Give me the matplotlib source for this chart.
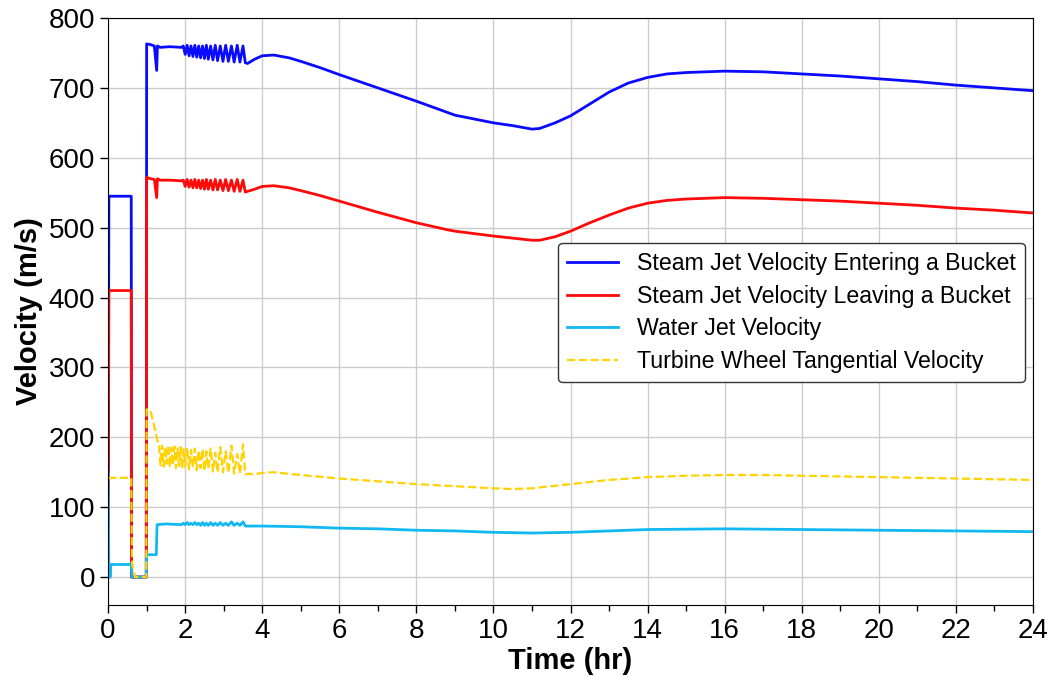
import numpy as np
import matplotlib
matplotlib.use("Agg")
import matplotlib.pyplot as plt
from matplotlib.ticker import MultipleLocator

plt.rcParams['font.family'] = ['Liberation Sans', 'DejaVu Sans']

#---------------------------- data ------------------------------------------------------
# oscillating start-up period (shared by the steam/water traces)
osc_t = [1.95, 2.0, 2.05, 2.1, 2.15, 2.2, 2.25, 2.3, 2.35, 2.4, 2.45, 2.5, 2.55, 2.6,
         2.66, 2.72, 2.78, 2.84, 2.91, 2.98, 3.05, 3.12, 3.2, 3.27, 3.35, 3.42, 3.5, 3.56]

# Steam jet velocity entering a bucket
t_in = [0, 0.02, 0.6, 0.61, 0.99, 1.0, 1.1, 1.2, 1.26, 1.28, 1.35, 1.6, 1.9] + osc_t + \
       [3.62, 3.8, 4.0, 4.3, 4.7, 5, 5.5, 6, 7, 8, 8.8, 9, 10, 10.5, 11, 11.2, 11.6, 12,
        12.5, 13, 13.5, 14, 14.5, 15, 16, 17, 18, 19, 20, 21, 22, 23, 24]
v_in = [0, 545, 545, 0, 0, 763, 762, 760, 725, 760, 758, 759, 758] + \
       [760, 748, 761, 746, 760, 745, 761, 744, 760, 743, 760, 742, 761, 741,
        760, 740, 761, 739, 760, 738, 761, 738, 760, 737, 761, 737, 760, 736] + \
       [735, 741, 746, 747, 743, 738, 729, 719, 700, 681, 665, 661, 650, 646, 641, 642, 650, 660,
        677, 694, 707, 715, 720, 722, 724, 723, 720, 717, 713, 709, 704, 700, 696]

# Steam jet velocity leaving a bucket
t_out = t_in
v_out = [0, 410, 410, 0, 0, 572, 570, 569, 543, 570, 568, 568, 567] + \
        [568, 559, 569, 558, 568, 557, 569, 557, 568, 556, 568, 555, 569, 555,
         568, 554, 569, 554, 568, 553, 569, 553, 568, 552, 569, 552, 568, 551] + \
        [552, 555, 559, 560, 557, 553, 546, 538, 522, 507, 497, 495, 488, 485, 482, 482, 487, 495,
         507, 518, 528, 535, 539, 541, 543, 542, 540, 538, 535, 532, 528, 525, 521]

# Water jet velocity
t_water = [0, 0.02, 0.06, 0.07, 0.6, 0.62, 0.99, 1.0, 1.25, 1.27, 1.5, 1.9] + osc_t + \
          [3.62, 4, 5, 6, 7, 8, 9, 10, 11, 12, 13, 14, 16, 18, 20, 22, 24]
v_water = [150, 0, 0, 18, 18, 0, 0, 32, 32, 75, 76, 75] + \
          [77, 75, 78, 75, 77, 75, 78, 75, 77, 74, 78, 74, 77, 74,
           78, 74, 77, 74, 78, 74, 77, 74, 79, 74, 77, 74, 79, 73] + \
          [73, 73, 72, 70, 69, 67, 66, 64, 63, 64, 66, 68, 69, 68, 67, 66, 65]

# Turbine wheel tangential velocity
t_wheel = [0, 0.6, 0.62, 0.7, 0.99, 1.0, 1.1, 1.2, 1.28,
           1.32, 1.36, 1.4, 1.44, 1.48, 1.52, 1.56, 1.6, 1.64, 1.68, 1.72, 1.76, 1.8, 1.84,
           1.88, 1.92, 1.96, 2.0, 2.05, 2.1, 2.15, 2.2, 2.25, 2.3, 2.35, 2.4, 2.45, 2.5,
           2.55, 2.6, 2.66, 2.72, 2.78, 2.84, 2.91, 2.98, 3.05, 3.12, 3.2, 3.27, 3.35,
           3.42, 3.5, 3.56,
           3.65, 3.8, 4.0, 4.3, 5, 6, 7, 8, 9, 10, 10.5, 11, 12, 13, 14, 15, 16, 17, 18,
           20, 22, 24]
v_wheel = [142, 142, 20, 0, 0, 240, 238, 215, 195,
           190, 160, 188, 158, 186, 162, 189, 157, 185, 160, 187, 156, 184, 159,
           186, 155, 183, 158, 185, 154, 182, 157, 184, 153, 181, 156, 183, 152,
           180, 155, 184, 151, 178, 150, 186, 150, 180, 149, 188, 148, 176,
           148, 190, 147,
           148, 147, 149, 150, 146, 141, 137, 133, 130, 127, 126, 127, 133, 139, 143, 145, 146, 146, 145,
           143, 141, 139]

labels = ["Steam Jet Velocity Entering a Bucket",
          "Steam Jet Velocity Leaving a Bucket",
          "Water Jet Velocity",
          "Turbine Wheel Tangential Velocity"]

#---------------------------- plotting -------------------------------
fig = plt.figure(figsize=(10.6, 6.83), dpi=100)
ax = fig.add_axes([0.102, 0.1142, 0.8725, 0.8594])

ax.plot(t_in, v_in, color='#0a0aff', lw=2, label=labels[0])
ax.plot(t_out, v_out, color='#ff0a0a', lw=2, label=labels[1])
ax.plot(t_water, v_water, color='#12b8f2', lw=2, label=labels[2])
ax.plot(t_wheel, v_wheel, color='#ffd200', lw=1.6, ls='--', label=labels[3])

ax.set_xlim(0, 24)
ax.set_ylim(-40, 800)
ax.xaxis.set_major_locator(MultipleLocator(2))
ax.xaxis.set_minor_locator(MultipleLocator(1))
ax.yaxis.set_major_locator(MultipleLocator(100))
ax.tick_params(which='major', direction='out', length=6, width=1, labelsize=20)
ax.tick_params(which='minor', direction='out', length=4, width=1)
ax.grid(True, which='major', color='#cccccc', lw=1)
ax.set_axisbelow(True)

ax.set_xlabel("Time (hr)", fontsize=21, fontweight='bold', labelpad=2)
ax.set_ylabel("Velocity (m/s)", fontsize=21, fontweight='bold', labelpad=4)

leg = ax.legend(loc='upper right', bbox_to_anchor=(1.004, 0.637), fontsize=16.7,
                labelspacing=0.42, handlelength=2.2, framealpha=1, fancybox=True,
                borderpad=0.4)
leg.get_frame().set_edgecolor('#333333')
leg.get_frame().set_linewidth(1)

fig.savefig("out.png", dpi=100)
